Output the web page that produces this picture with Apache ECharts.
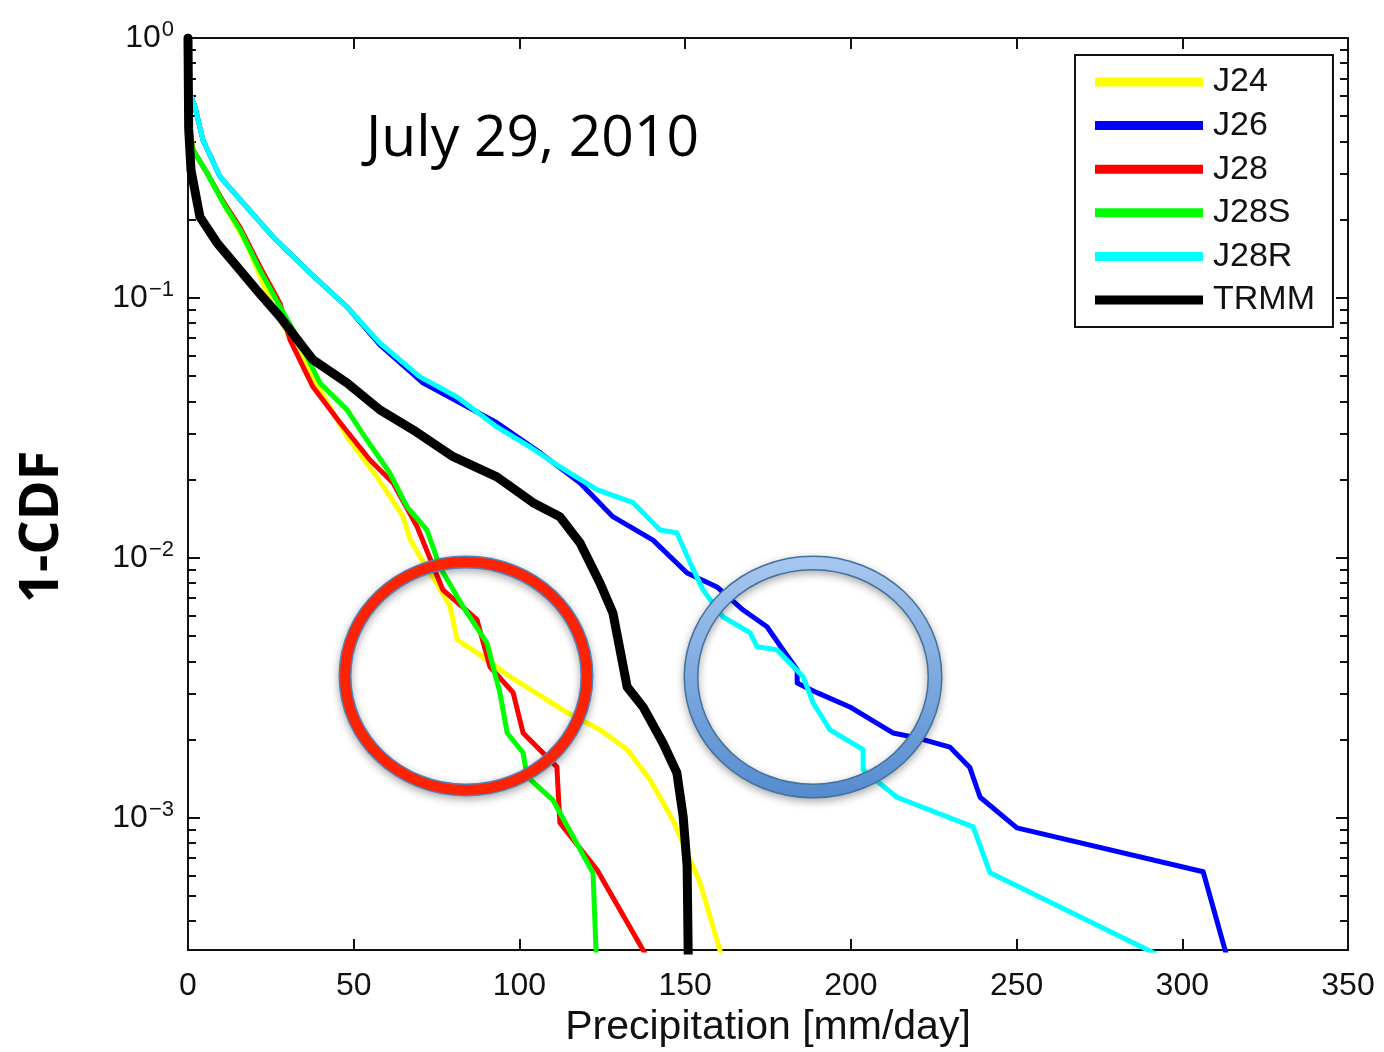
<!DOCTYPE html>
<html>
<head>
<meta charset="utf-8">
<script src="https://cdn.jsdelivr.net/npm/echarts@6/dist/echarts.min.js"></script>
<style>
  html, body { margin: 0; padding: 0; background: #fff; }
  #chart { width: 1384px; height: 1052px; }
</style>
</head>
<body>
<div id="chart"></div>
<script>
// axis ticks
var xMin = 0, xMax = 350, xStep = 50;
var yMin = 3.1e-4, yMax = 1;
var yMajor = [1e-3, 1e-2, 1e-1, 1];
var yMinor = [4e-4, 5e-4, 6e-4, 7e-4, 8e-4, 9e-4,
  2e-3, 3e-3, 4e-3, 5e-3, 6e-3, 7e-3, 8e-3, 9e-3,
  2e-2, 3e-2, 4e-2, 5e-2, 6e-2, 7e-2, 8e-2, 9e-2,
  0.2, 0.3, 0.4, 0.5, 0.6, 0.7, 0.8, 0.9];

var names = ['J24', 'J26', 'J28', 'J28S', 'J28R', 'TRMM'];
var colors = ['#ffff00', '#0000ff', '#ff0000', '#00ff00', '#00ffff', '#000000'];

// [precipitation mm/day, 1-CDF]
var j24 = [[0.5, 0.45], [1.5, 0.371], [5.7, 0.303], [10.6, 0.232], [17.8, 0.16], [25.6, 0.0923],
  [32.9, 0.063], [34.7, 0.0578], [39.8, 0.0443], [48.0, 0.0292], [57.0, 0.0205], [64.9, 0.0144],
  [67.0, 0.0118], [70.0, 0.0101], [73.9, 0.00845], [79.1, 0.00648], [81.2, 0.00484], [87.2, 0.00431],
  [97.2, 0.00349], [114.4, 0.00254], [124.3, 0.00218], [132.5, 0.00183], [139.4, 0.0014],
  [146.3, 0.00098], [154.5, 0.000562], [161.5, 0.00028]];

var j26 = [[0.5, 0.62], [2.1, 0.543], [4.5, 0.405], [9.7, 0.292], [16.6, 0.232], [25.6, 0.172],
  [35.9, 0.128], [48.0, 0.0923], [57.9, 0.066], [70.9, 0.0471], [93.2, 0.0331], [106.2, 0.0254],
  [118.3, 0.0194], [128.2, 0.0144], [140.3, 0.0117], [150.6, 0.00875], [159.6, 0.00773],
  [167.5, 0.0063], [174.7, 0.00543], [179.5, 0.00443], [183.8, 0.00371], [183.8, 0.0033],
  [189.8, 0.00303], [199.7, 0.00267], [212.7, 0.00212], [220.0, 0.00203], [229.9, 0.00187],
  [235.9, 0.00156], [239.0, 0.0012], [250.1, 0.000915], [306.3, 0.00062], [314.4, 0.000265]];

var j28 = [[0.5, 0.45], [1.5, 0.371], [5.7, 0.303], [10.6, 0.235], [15.7, 0.187], [21.7, 0.132],
  [27.8, 0.095], [30.8, 0.0689], [37.7, 0.0455], [45.9, 0.0331], [54.9, 0.0238], [61.9, 0.0194],
  [69.1, 0.0132], [76.9, 0.00753], [87.2, 0.00578], [91.1, 0.00381], [98.1, 0.00303],
  [101.1, 0.00212], [111.3, 0.00157], [112.2, 0.000957], [123.4, 0.000631], [140.0, 0.00027]];

var j28s = [[0.5, 0.45], [1.5, 0.371], [5.7, 0.303], [10.6, 0.232], [15.7, 0.183], [21.7, 0.128],
  [27.8, 0.0923], [32.9, 0.0708], [39.8, 0.0471], [48.0, 0.0371], [54.0, 0.0284], [60.9, 0.0212],
  [66.1, 0.0157], [72.1, 0.0128], [76.0, 0.00923], [83.0, 0.00648], [90.2, 0.00471],
  [94.1, 0.00303], [96.3, 0.00212], [101.1, 0.00178], [102.3, 0.00144], [110.1, 0.00117],
  [122.2, 0.000614], [123.4, 0.00025]];

var j28r = [[0.5, 0.62], [2.1, 0.543], [4.5, 0.405], [9.7, 0.292], [16.6, 0.232], [25.6, 0.172],
  [35.9, 0.128], [48.0, 0.0923], [57.9, 0.0671], [70.0, 0.0497], [81.2, 0.0416], [93.2, 0.0319],
  [103.2, 0.0267], [112.2, 0.0224], [123.4, 0.0183], [134.3, 0.0163], [142.4, 0.0128],
  [147.5, 0.0125], [151.5, 0.00957], [155.4, 0.00753], [161.4, 0.00593], [169.6, 0.00515],
  [171.7, 0.00455], [177.7, 0.00443], [185.6, 0.00349], [188.6, 0.00277], [193.7, 0.00218],
  [203.7, 0.00183], [203.7, 0.00153], [213.9, 0.0012], [236.9, 0.000923], [242.0, 0.000614],
  [293.3, 0.000294]];

var trmm = [[0, 1], [0.2, 0.45], [0.9, 0.31], [3.6, 0.205], [8.75, 0.163], [14.8, 0.132],
  [20.8, 0.107], [27.8, 0.0845], [34.7, 0.0648], [37.7, 0.0578], [48.0, 0.0471], [57.9, 0.0371],
  [67.9, 0.0311], [80.0, 0.0245], [93.2, 0.0205], [104.1, 0.0163], [112.2, 0.0144],
  [118.3, 0.0114], [124.3, 0.008], [128.2, 0.00614], [132.5, 0.00319], [137.3, 0.00267],
  [143.3, 0.00194], [147.5, 0.00149], [149.4, 0.00101], [150.6, 0.00065], [151.0, 0.00025]];

var seriesData = [j24, j26, j28, j28s, j28r, trmm];
var widths = [5, 5, 5, 5, 5, 9];

var chart = echarts.init(document.getElementById('chart'));

function expLabel(v) {
  var e = Math.round(Math.log10(v));
  return '{b|10}{s|' + (e < 0 ? '\u2212' + (-e) : e) + '}';
}

var tickFont = { fontFamily: 'Liberation Sans', fontSize: 32, color: '#111' };
var axisLine = { show: true, lineStyle: { color: '#111', width: 2 } };

var option = {
  animation: false,
  backgroundColor: '#fff',
  grid: { left: 188, top: 38, right: 36, bottom: 102, containLabel: false, outerBoundsMode: 'none' },
  legend: {
    orient: 'vertical',
    left: 1075,
    top: 55,
    padding: [10, 18, 10, 20],
    itemWidth: 108,
    itemHeight: 9,
    itemGap: 9.6,
    icon: 'rect',
    borderColor: '#111',
    borderWidth: 2,
    borderRadius: 0,
    textStyle: { fontFamily: 'Liberation Sans', fontSize: 34, color: '#111', lineHeight: 34, padding: [0, 0, 0, 5] },
    data: names
  },
  xAxis: [{
    type: 'value', min: xMin, max: xMax, interval: xStep,
    axisLine: axisLine,
    splitLine: { show: false },
    axisTick: { inside: true, length: 11, lineStyle: { color: '#111', width: 2 } },
    axisLabel: Object.assign({ margin: 20 }, tickFont),
    name: 'Precipitation [mm/day]',
    nameLocation: 'middle',
    nameGap: 57,
    nameTextStyle: { fontFamily: 'Liberation Sans', fontSize: 41, color: '#111' }
  }, {
    type: 'value', position: 'top', min: xMin, max: xMax, interval: xStep,
    axisLine: axisLine,
    splitLine: { show: false },
    axisTick: { inside: true, length: 11, lineStyle: { color: '#111', width: 2 } },
    axisLabel: { show: false }
  }],
  yAxis: [{
    type: 'log', min: yMin, max: yMax, logBase: 10,
    axisLine: axisLine,
    splitLine: { show: false },
    axisTick: { inside: true, length: 12, customValues: yMajor, lineStyle: { color: '#111', width: 2 } },
    axisLabel: {
      margin: 14,
      customValues: yMajor,
      formatter: expLabel,
      rich: {
        b: tickFont,
        s: { fontFamily: 'Liberation Sans', fontSize: 22, color: '#111', padding: [0, 0, 16, 1] }
      }
    }
  }, {
    type: 'log', min: yMin, max: yMax, logBase: 10, position: 'left',
    axisLine: { show: false },
    splitLine: { show: false },
    axisTick: { inside: true, length: 8, customValues: yMinor, lineStyle: { color: '#111', width: 2 } },
    axisLabel: { show: false }
  }, {
    type: 'log', min: yMin, max: yMax, logBase: 10, position: 'right',
    axisLine: axisLine,
    splitLine: { show: false },
    axisTick: { inside: true, length: 12, customValues: yMajor, lineStyle: { color: '#111', width: 2 } },
    axisLabel: { show: false }
  }, {
    type: 'log', min: yMin, max: yMax, logBase: 10, position: 'right',
    axisLine: { show: false },
    splitLine: { show: false },
    axisTick: { inside: true, length: 8, customValues: yMinor, lineStyle: { color: '#111', width: 2 } },
    axisLabel: { show: false }
  }],
  series: names.map(function (n, i) {
    return {
      name: n,
      type: 'line',
      data: seriesData[i],
      symbol: 'none',
      color: colors[i],
      clip: true,
      lineStyle: { color: colors[i], width: widths[i], join: 'round', cap: 'round' },
      z: 2 + i
    };
  }),
  graphic: [
    {
      type: 'text', left: 366, top: 111, z: 50,
      style: { text: 'July 29, 2010', fontFamily: 'Open Sans', fontSize: 57, fill: '#000' }
    },
    {
      type: 'text', z: 50, x: 16, y: 603, rotation: Math.PI / 2,
      style: { text: '1-CDF', fontFamily: 'Open Sans', fontWeight: 'bold', fontSize: 54, fill: '#000' }
    },
    // red annotation ring
    {
      type: 'ellipse', z: 60,
      shape: { cx: 466, cy: 676, rx: 121, ry: 114 },
      style: { fill: null, stroke: '#4f81bd', lineWidth: 13,
        shadowBlur: 8, shadowColor: 'rgba(0,0,0,0.35)', shadowOffsetY: 3 }
    },
    {
      type: 'ellipse', z: 61,
      shape: { cx: 466, cy: 676, rx: 121, ry: 114 },
      style: { fill: null, stroke: '#ff2200', lineWidth: 10 }
    },
    // blue annotation ring
    {
      type: 'ellipse', z: 60,
      shape: { cx: 813, cy: 677, rx: 122, ry: 114 },
      style: { fill: null, stroke: '#41719c', lineWidth: 15,
        shadowBlur: 8, shadowColor: 'rgba(0,0,0,0.35)', shadowOffsetY: 3 }
    },
    {
      type: 'ellipse', z: 61,
      shape: { cx: 813, cy: 677, rx: 122, ry: 114 },
      style: {
        fill: null, lineWidth: 12,
        stroke: new echarts.graphic.LinearGradient(0, 0, 0, 1, [
          { offset: 0, color: '#a7c7f0' },
          { offset: 1, color: '#558ccf' }
        ])
      }
    }
  ]
};

chart.setOption(option);
</script>
</body>
</html>
